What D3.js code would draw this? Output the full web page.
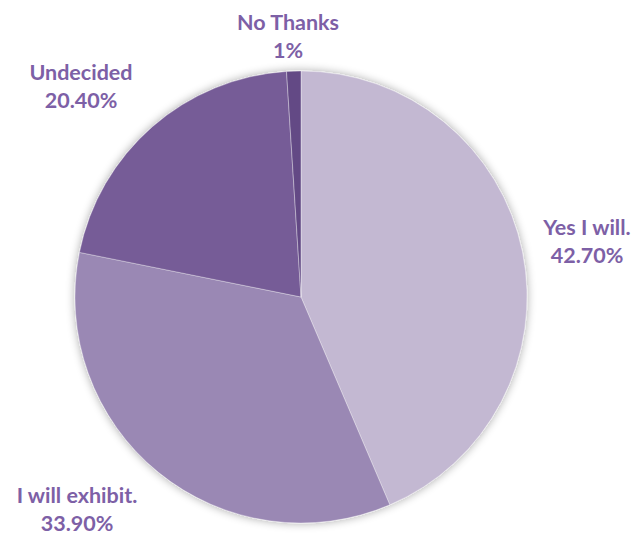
<!DOCTYPE html>
<html><head><meta charset="utf-8">
<script src="https://cdn.jsdelivr.net/npm/d3@7"></script>
<style>body{margin:0;background:#fff}</style>
</head><body>
<svg id="c" width="637" height="537"></svg>
<script>
const categories = ["Yes I will.", "I will exhibit.", "Undecided", "No Thanks"];
const values = [42.7, 33.9, 20.4, 1];
const valueLabels = ["42.70%", "33.90%", "20.40%", "1%"];
const colors = ["#c3b8d2", "#9a88b4", "#765c97", "#634a85"];
const labelPos = [[587, 235], [77, 503], [81, 80], [288, 30]];

const svg = d3.select("#c");
const cx = 301, cy = 297, r = 226;
const defs = svg.append("defs");
const f = defs.append("filter").attr("id","sh").attr("x","-20%").attr("y","-20%").attr("width","140%").attr("height","140%");
f.append("feGaussianBlur").attr("in","SourceAlpha").attr("stdDeviation",5).attr("result","b");
f.append("feOffset").attr("in","b").attr("dx",0).attr("dy",0).attr("result","o");
f.append("feComponentTransfer").attr("in","o").attr("result","o2").append("feFuncA").attr("type","linear").attr("slope",0.35);
const m = f.append("feMerge");
m.append("feMergeNode").attr("in","o2");
m.append("feMergeNode").attr("in","SourceGraphic");

const pie = d3.pie().sort(null).value(d => d);
const arc = d3.arc().innerRadius(0).outerRadius(r);
const g = svg.append("g").attr("transform", `translate(${cx},${cy})`).attr("filter","url(#sh)");
g.selectAll("path").data(pie(values)).join("path")
  .attr("d", arc).attr("fill", (d,i) => colors[i])
  .attr("stroke", "#ffffff").attr("stroke-opacity", 0.5).attr("stroke-width", 0.7);

const t = svg.append("g");
categories.forEach((c, i) => {
  const txt = t.append("text").attr("text-anchor","middle")
    .attr("font-family","Lato, 'Open Sans', sans-serif").attr("font-weight","bold")
    .attr("font-size", 21.5).attr("fill","#7d60a6");
  txt.append("tspan").attr("x", labelPos[i][0]).attr("y", labelPos[i][1]).text(c);
  txt.append("tspan").attr("x", labelPos[i][0]).attr("y", labelPos[i][1] + 28).text(valueLabels[i]);
});
</script>
</body></html>
